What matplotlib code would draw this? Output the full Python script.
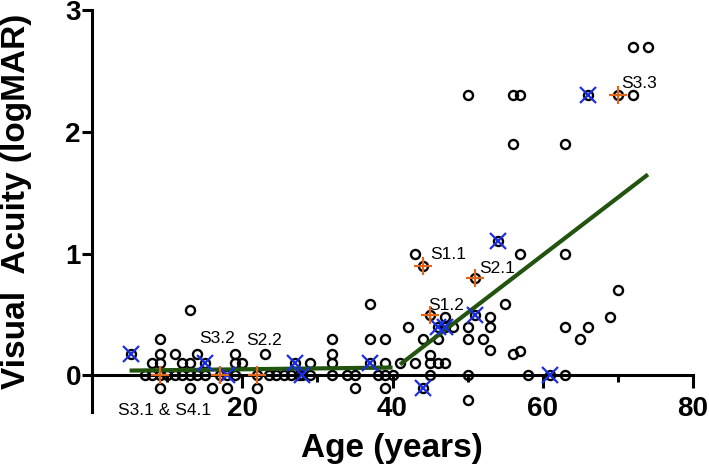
import matplotlib
matplotlib.use('Agg')
import matplotlib.pyplot as plt
from matplotlib.ticker import MultipleLocator

# all patients (open circles)
age = [7, 8, 9, 10, 11, 12, 13, 14, 15, 17, 18, 19, 22, 23.5, 24.5, 25.5, 26.5, 27.5, 28, 29, 32, 34, 35, 38, 39, 40,
       45, 50, 58, 61, 63,
       8, 9, 12, 13, 15, 19, 20, 27, 29, 32, 37, 39, 41, 43, 45, 46, 47,
       5.2, 9, 11, 14, 19, 23, 32, 45, 56, 57, 53,
       9, 32, 37, 39, 44, 46, 50, 52, 65,
       42, 46, 47, 48, 50, 53, 63, 66,
       47, 53, 69, 45, 51, 13, 37, 55, 70,
       9, 13, 16, 18, 22, 35, 39, 44, 50,
       44, 51, 43, 57, 63, 54, 56, 63,
       50, 56, 57, 66, 70, 72, 72, 74]
va = [0, 0, 0, 0, 0, 0, 0, 0, 0, 0, 0, 0, 0, 0, 0, 0, 0, 0, 0, 0, 0, 0, 0, 0, 0, 0,
      0, 0, 0, 0, 0,
      0.1, 0.1, 0.1, 0.1, 0.1, 0.1, 0.1, 0.1, 0.1, 0.1, 0.1, 0.1, 0.1, 0.1, 0.1, 0.1, 0.1,
      0.18, 0.18, 0.18, 0.18, 0.18, 0.18, 0.18, 0.17, 0.18, 0.2, 0.21,
      0.3, 0.3, 0.3, 0.3, 0.3, 0.3, 0.3, 0.3, 0.3,
      0.4, 0.4, 0.4, 0.4, 0.4, 0.4, 0.4, 0.4,
      0.48, 0.48, 0.48, 0.5, 0.5, 0.54, 0.59, 0.59, 0.7,
      -0.1, -0.1, -0.1, -0.1, -0.1, -0.1, -0.1, -0.1, -0.2,
      0.9, 0.8, 1.0, 1.0, 1.0, 1.1, 1.9, 1.9,
      2.3, 2.3, 2.3, 2.3, 2.3, 2.3, 2.7, 2.7]

# highlighted patients
blue_age = [5.2, 15, 18, 27, 28, 37, 44, 46, 47, 51, 54, 61, 66]
blue_va = [0.18, 0.1, 0, 0.1, 0, 0.1, -0.1, 0.4, 0.4, 0.5, 1.1, 0, 2.3]
orange_age = [9, 17, 22, 45, 44, 51, 70]
orange_va = [0, 0, 0, 0.5, 0.9, 0.8, 2.3]

# labels for orange points
lab_text = ['S3.1 & S4.1', 'S3.2', 'S2.2', 'S1.2', 'S1.1', 'S2.1', 'S3.3']
lab_x = [3.4, 14.3, 20.5, 44.7, 45, 51.6, 70.5]
lab_y = [-0.29, 0.3, 0.29, 0.575, 0.99, 0.88, 2.4]

# two-segment fit
fit1_x = [5, 40]
fit1_y = [0.04, 0.065]
fit2_x = [41, 74]
fit2_y = [0.09, 1.65]

plt.rcParams['font.family'] = ['Liberation Sans', 'DejaVu Sans']

fig = plt.figure(figsize=(7.09, 4.70), dpi=100)
ax = fig.add_axes([0.1298, 0.1234, 0.8477, 0.8553])

ax.plot(age, va, 'o', ms=6.5, mfc='none', mec='black', mew=1.7, zorder=2)
ax.plot(fit1_x, fit1_y, color='#22540f', lw=3, solid_capstyle='butt', zorder=3)
ax.plot(fit2_x, fit2_y, color='#22540f', lw=3, solid_capstyle='butt', zorder=3)
ax.plot(blue_age, blue_va, 'x', ms=12, mec='#1a2ee6', mew=1.6, zorder=4)
ax.plot(orange_age, orange_va, '+', ms=13, mec='#e0661c', mew=1.6, zorder=4)

for t, x, y in zip(lab_text, lab_x, lab_y):
    ax.text(x, y, t, fontsize=12.5, ha='left', va='center')

ax.set_xlim(0, 80)
ax.set_ylim(-0.3, 3)
ax.spines['top'].set_visible(False)
ax.spines['right'].set_visible(False)
ax.spines['bottom'].set_position(('data', 0))
ax.spines['bottom'].set_linewidth(2.2)
ax.spines['left'].set_linewidth(2.2)

ax.set_xticks([20, 40, 60, 80])
ax.xaxis.set_minor_locator(MultipleLocator(10))
ax.set_yticks([0, 1, 2, 3])
ax.tick_params(axis='x', which='major', length=9, width=2.2, pad=6, labelsize=20)
ax.tick_params(axis='x', which='minor', length=5, width=2.2)
ax.tick_params(axis='y', length=7, width=2.2, pad=1, labelsize=20)
for lbl in ax.get_xticklabels() + ax.get_yticklabels():
    lbl.set_fontweight('bold')

fig.text(17 / 709, 1 - 201 / 470, 'Visual  Acuity (logMAR)', rotation=90, ha='center', va='center',
         fontsize=24, fontweight='bold')
fig.text(392 / 709, 1 - 449 / 470, 'Age (years)', ha='center', va='center', fontsize=24, fontweight='bold')

fig.savefig('out.png', dpi=100)
